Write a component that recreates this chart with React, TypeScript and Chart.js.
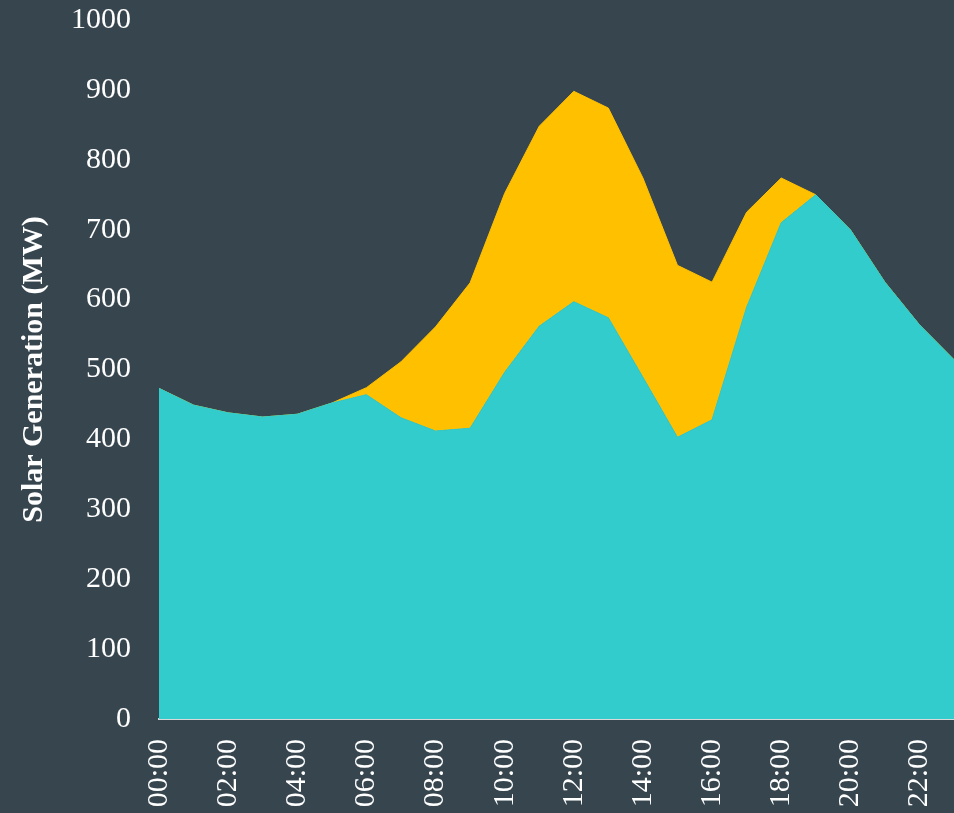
import React, { useEffect, useRef } from "react";
import { Chart, registerables } from "chart.js";

Chart.register(...registerables);

const hours = [
  "00:00", "01:00", "02:00", "03:00", "04:00", "05:00", "06:00", "07:00",
  "08:00", "09:00", "10:00", "11:00", "12:00", "13:00", "14:00", "15:00",
  "16:00", "17:00", "18:00", "19:00", "20:00", "21:00", "22:00", "23:00",
];

const baseGeneration = [
  473, 449, 438, 432, 436, 452, 464, 431, 412, 416, 496, 562,
  597, 574, 489, 403, 428, 589, 710, 750, 700, 625, 564, 514,
];

const totalGeneration = [
  473, 449, 438, 432, 436, 452, 474, 511, 561, 624, 752, 848,
  898, 874, 774, 649, 625, 725, 774, 750, 700, 625, 564, 514,
];

const yTicks = [0, 100, 200, 300, 400, 500, 600, 700, 800, 900, 1000];

const FONT = "'Liberation Serif', 'DejaVu Serif', serif";

export default function App() {
  const ref = useRef<HTMLCanvasElement | null>(null);

  useEffect(() => {
    if (!ref.current) return;
    const chart = new Chart(ref.current, {
      type: "line",
      data: {
        labels: hours,
        datasets: [
          {
            label: "Base",
            data: baseGeneration,
            backgroundColor: "#33CCCC",
            borderColor: "#33CCCC",
            borderWidth: 1,
            pointRadius: 0,
            tension: 0,
            fill: "origin",
          },
          {
            label: "Total",
            data: totalGeneration,
            backgroundColor: "#FFC000",
            borderColor: "#FFC000",
            borderWidth: 1,
            pointRadius: 0,
            tension: 0,
            fill: "-1",
          },
        ],
      },
      options: {
        animation: false,
        responsive: false,
        maintainAspectRatio: false,
        layout: { padding: { top: 20, left: 0, right: 0, bottom: 0 } },
        plugins: {
          legend: { display: false },
          tooltip: { enabled: false },
        },
        scales: {
          x: {
            offset: false,
            grid: { display: false, drawTicks: false },
            border: { display: true, color: "#D9D9D9", width: 2 },
            ticks: {
              autoSkip: false,
              maxRotation: 90,
              minRotation: 90,
              padding: 20,
              color: "#FFFFFF",
              font: { family: FONT, size: 30 },
              callback: (_v: any, i: number) => (i % 2 === 0 ? hours[i] : ""),
            },
            afterFit: (scale: any) => {
              scale.paddingLeft = 0;
              scale.paddingRight = 0;
              scale.height = 94;
            },
          },
          y: {
            min: 0,
            max: 1000,
            afterBuildTicks: (scale: any) => {
              scale.ticks = yTicks.map((v) => ({ value: v }));
            },
            grid: { display: false, drawTicks: false },
            border: { display: false },
            ticks: {
              padding: 28,
              color: "#FFFFFF",
              font: { family: FONT, size: 30 },
              callback: (v: any) => String(v),
            },
            title: {
              display: true,
              text: "Solar Generation (MW)",
              color: "#FFFFFF",
              font: { family: FONT, size: 30, weight: "bold" },
              padding: { top: 16, bottom: 0 },
            },
            afterFit: (scale: any) => {
              scale.width = 159;
              scale.paddingTop = 0;
              scale.paddingBottom = 0;
            },
          },
        },
      },
    });
    return () => chart.destroy();
  }, []);

  return (
    <div
      style={{
        position: "fixed",
        left: 0,
        top: 0,
        width: 954,
        height: 813,
        overflow: "hidden",
        background: "#36454E",
      }}
    >
      <canvas ref={ref} width={954} height={813} style={{ display: "block" }} />
    </div>
  );
}
